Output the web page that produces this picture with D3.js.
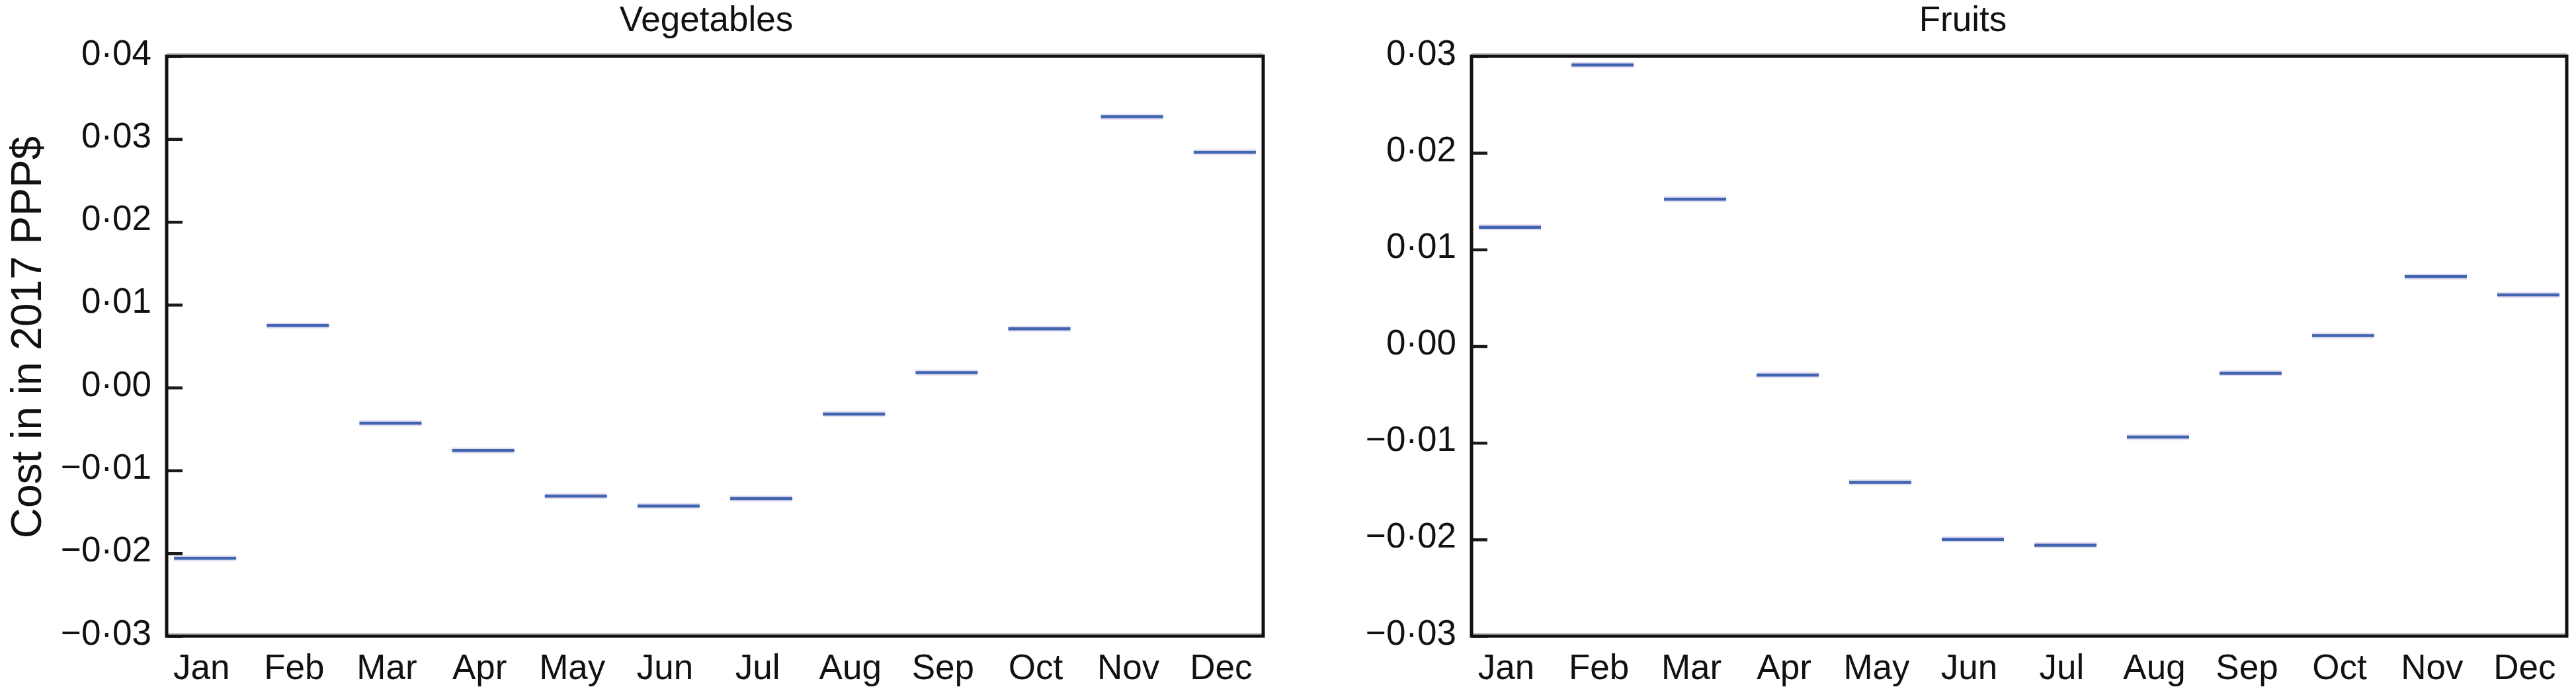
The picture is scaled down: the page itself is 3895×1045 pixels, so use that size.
<!DOCTYPE html>
<html>
<head>
<meta charset="utf-8">
<script src="https://cdn.jsdelivr.net/npm/d3@7"></script>
<style>
  html, body { margin: 0; padding: 0; background: #fff; }
  svg { display: block; }
  text { font-family: "Liberation Sans", Arial, Helvetica, sans-serif; fill: #111; }
</style>
</head>
<body>
<svg id="chart" width="3895" height="1045"></svg>
<script>
// ---- data ----
const months = ["Jan","Feb","Mar","Apr","May","Jun","Jul","Aug","Sep","Oct","Nov","Dec"];
const vegetables = [-0.0206, 0.0075, -0.0043, -0.0076, -0.0131, -0.0143, -0.0134, -0.0032, 0.0018, 0.0071, 0.0327, 0.0284];
const fruits     = [0.0123, 0.0291, 0.0152, -0.0030, -0.0141, -0.0200, -0.0206, -0.0094, -0.0028, 0.0011, 0.0072, 0.0053];
const vegTicks   = [-0.03, -0.02, -0.01, 0.00, 0.01, 0.02, 0.03, 0.04];
const fruitTicks = [-0.03, -0.02, -0.01, 0.00, 0.01, 0.02, 0.03];
const titles = ["Vegetables", "Fruits"];
const yLabel = "Cost in in 2017 PPP$";

// ---- layout ----
const svg = d3.select("#chart");
const plotTop = 85, plotBottom = 962;
const panels = [
  { title: titles[0], values: vegetables, ticks: vegTicks, x0: 252, x1: 1910, titleX: 1068 },
  { title: titles[1], values: fruits, ticks: fruitTicks, x0: 2225, x1: 3881, titleX: 2968 }
];

const fmt = d => {
  const s = d3.format(".2f")(Math.abs(d)).replace(".", "\u00B7");
  return (d < -1e-9 ? "\u2212" : "") + s;
};

panels.forEach(p => {
  const g = svg.append("g");
  const y = d3.scaleLinear().domain(d3.extent(p.ticks)).range([plotBottom, plotTop]);
  const x = d3.scalePoint().domain(months).range([p.x0, p.x1]).padding(0.415);

  // light shadow lines near top/bottom frame
  g.append("line").attr("x1", p.x0).attr("x2", p.x1).attr("y1", plotTop - 4).attr("y2", plotTop - 4)
    .attr("stroke", "#bcc8c8").attr("stroke-width", 2);
  g.append("line").attr("x1", p.x0).attr("x2", p.x1).attr("y1", plotBottom - 4).attr("y2", plotBottom - 4)
    .attr("stroke", "#bcc8c8").attr("stroke-width", 2);

  // y axis (ticks inward)
  const ya = g.append("g").attr("transform", `translate(${p.x0},0)`)
    .call(d3.axisLeft(y).tickValues(p.ticks).tickSizeInner(-24).tickSizeOuter(0).tickPadding(23).tickFormat(fmt));
  ya.select(".domain").remove();
  ya.selectAll(".tick line").attr("stroke", "#1a1a1a").attr("stroke-width", 4.5);
  ya.selectAll(".tick text").attr("dy", null).attr("y", 12).attr("x", -23)
    .style("font-size", "53px").attr("fill", "#111");

  // x axis labels (no ticks)
  const xa = g.append("g").attr("transform", `translate(0,${plotBottom})`)
    .call(d3.axisBottom(x).tickSize(0).tickPadding(0));
  xa.select(".domain").remove();
  xa.selectAll(".tick text").attr("dy", null).attr("y", 65).attr("x", -6)
    .style("font-size", "53px").attr("fill", "#111");

  // frame
  g.append("rect").attr("x", p.x0).attr("y", plotTop).attr("width", p.x1 - p.x0).attr("height", plotBottom - plotTop)
    .attr("fill", "none").attr("stroke", "#111").attr("stroke-width", 5);

  // segments
  const half = 47;
  const seg = g.append("g").selectAll("g").data(p.values).join("g");
  seg.append("line")
    .attr("x1", (d, i) => x(months[i]) - half).attr("x2", (d, i) => x(months[i]) + half)
    .attr("y1", d => y(d)).attr("y2", d => y(d))
    .attr("stroke", "#d8d0ea").attr("stroke-width", 9).attr("opacity", 0.7);
  seg.append("line")
    .attr("x1", (d, i) => x(months[i]) - half).attr("x2", (d, i) => x(months[i]) + half)
    .attr("y1", d => y(d)).attr("y2", d => y(d))
    .attr("stroke", "#4064b0").attr("stroke-width", 4.5);

  // title
  svg.append("text").attr("x", p.titleX).attr("y", 47).attr("text-anchor", "middle")
    .style("font-size", "53px").text(p.title);
});

// y-axis label
svg.append("text")
  .attr("transform", "translate(62,510) rotate(-90)")
  .attr("text-anchor", "middle")
  .style("font-size", "64px")
  .text(yLabel);
</script>
</body>
</html>
